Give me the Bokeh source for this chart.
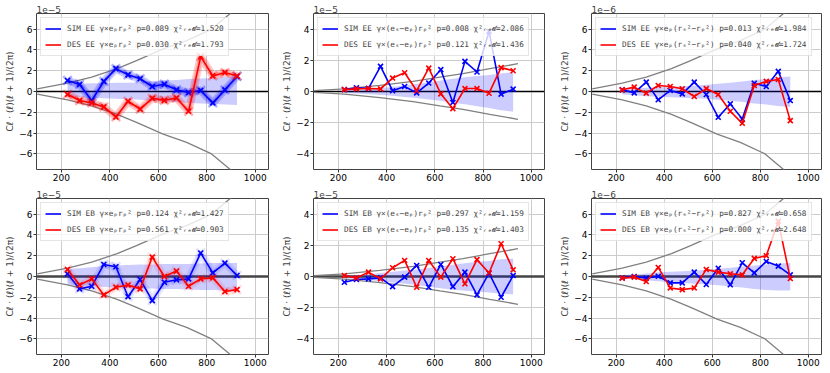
from bokeh.plotting import figure
from bokeh.layouts import column, row
from bokeh.models import Range1d, FixedTicker, Legend, LegendItem, Span
from bokeh.embed import file_html
from bokeh.resources import INLINE

# ---------------- data ----------------
ell = [225, 275, 325, 375, 425, 475, 525, 575, 625, 675, 725, 775, 825, 875, 925]
x_ticks = [200, 400, 600, 800, 1000]

# envelope curves (grey), symmetric
env_wide_ell = [100, 225, 325, 430, 510, 620, 717, 820, 897, 945]
env_wide = [0.25, 0.8, 1.39, 2.2, 2.97, 4.1, 4.9, 6.0, 7.5, 8.4]
env_narrow_ell = [100, 225, 372, 510, 621, 717, 828, 945]
env_narrow = [0.06, 0.17, 0.39, 0.65, 0.92, 1.14, 1.46, 1.78]

# Panel 1: EE  gamma x e_p r_p^2   (x1e-5)
sim_ee_1 = [1.06, 0.68, -0.87, 0.97, 2.2, 1.6, 1.23, 0.48, 0.7, 0.16, -0.1, 0.1, -1.1, 0.16, 1.45]
des_ee_1 = [-0.27, -0.87, -1.1, -1.48, -2.45, -0.94, -1.7, -0.65, -0.85, -0.62, -1.9, 3.35, 1.5, 1.82, 1.49]
up_1 = [0.7, 0.75, 0.8, 0.8, 0.85, 0.85, 0.9, 1.0, 1.05, 1.1, 1.2, 1.25, 1.3, 1.4, 1.45]
lo_1 = [-0.5, -0.55, -0.6, -0.65, -0.7, -0.75, -0.8, -0.9, -0.95, -1.0, -1.1, -1.15, -1.2, -1.25, -1.3]

# Panel 2: EE  gamma x (e_s-e_p) r_p^2   (x1e-5)
sim_ee_2 = [0.12, 0.24, 0.2, 1.61, 0.05, 0.32, -0.09, 0.54, 1.4, -0.7, 1.93, 1.25, 3.85, -0.17, 0.15]
des_ee_2 = [0.12, 0.17, 0.19, 0.17, 0.86, 1.2, 0.05, 1.5, -0.15, -1.1, 0.19, 0.19, -0.11, 1.53, 1.33]
up_2 = [0.06, 0.1, 0.15, 0.22, 0.3, 0.38, 0.48, 0.6, 0.7, 0.82, 0.92, 1.0, 1.05, 1.15, 1.25]
lo_2 = [-0.09, -0.13, -0.18, -0.23, -0.28, -0.35, -0.42, -0.52, -0.6, -0.72, -0.82, -0.95, -1.05, -1.2, -1.3]

# Panel 3: EE  gamma x e_p (r_s^2 - r_p^2)   (x1e-6)
sim_ee_3 = [0.16, -0.13, 0.9, -0.8, 0.1, -0.23, 0.9, -0.29, -2.48, -1.19, -2.65, 0.8, 0.48, 1.94, -0.87]
des_ee_3 = [0.16, 0.42, -0.16, 0.58, 0.48, 0.26, -0.48, 0.28, -0.29, -1.9, -3.06, 0.58, 0.97, 1.16, -2.8]
up_3 = [0.25, 0.3, 0.35, 0.4, 0.45, 0.5, 0.55, 0.65, 0.75, 0.85, 0.95, 1.1, 1.2, 1.35, 1.45]
lo_3 = [-0.3, -0.35, -0.45, -0.5, -0.55, -0.6, -0.65, -0.7, -0.8, -0.9, -1.0, -1.15, -1.25, -1.4, -1.5]

# Panel 4: EB  gamma x e_p r_p^2   (x1e-5)
sim_eb_4 = [0.26, -1.19, -0.94, 1.16, 0.94, -1.94, -0.29, -2.32, -0.55, -0.32, -0.23, 2.26, 0.35, 1.29, 0.1]
des_eb_4 = [0.68, -0.81, -0.23, -1.77, -1.03, -0.81, -1.19, 1.87, 0.0, 0.52, -0.94, -0.23, -0.13, -1.45, -1.26]
up_4 = [0.75, 0.8, 0.9, 1.0, 1.05, 1.1, 1.15, 1.15, 1.2, 1.2, 1.2, 1.25, 1.3, 1.3, 1.3]
lo_4 = [-0.8, -0.85, -0.9, -1.0, -1.05, -1.1, -1.15, -1.15, -1.2, -1.2, -1.25, -1.3, -1.3, -1.35, -1.35]

# Panel 5: EB  gamma x (e_s-e_p) r_p^2   (x1e-5)
sim_eb_5 = [-0.37, -0.19, -0.15, -0.09, -0.65, -0.04, 0.71, -0.69, 0.77, -0.65, 0.28, -1.18, 0.22, -1.33, 0.06]
des_eb_5 = [0.06, -0.09, 0.28, -0.15, 0.56, 1.03, -0.69, 1.03, -0.04, 1.14, -0.47, 1.08, 0.22, 2.1, 0.43]
up_5 = [0.06, 0.1, 0.15, 0.22, 0.3, 0.38, 0.45, 0.55, 0.65, 0.75, 0.85, 0.95, 1.0, 1.1, 1.15]
lo_5 = [-0.12, -0.16, -0.22, -0.3, -0.38, -0.46, -0.55, -0.65, -0.75, -0.85, -0.92, -0.98, -1.03, -1.1, -1.15]

# Panel 6: EB  gamma x e_p (r_s^2 - r_p^2)   (x1e-6)
sim_eb_6 = [-0.13, 0.0, -0.16, 0.03, -0.61, -0.61, 0.42, -0.77, 0.8, -0.8, 1.32, 0.35, 1.45, 1.0, 0.16]
des_eb_6 = [-0.16, -0.06, -0.48, 0.87, -1.1, -1.26, -1.1, 0.68, 0.42, 0.26, 0.16, 1.74, 2.0, 5.3, -0.2]
up_6 = [0.15, 0.2, 0.3, 0.4, 0.45, 0.5, 0.55, 0.65, 0.75, 0.85, 0.95, 1.05, 1.15, 1.25, 1.3]
lo_6 = [-0.2, -0.25, -0.35, -0.45, -0.55, -0.62, -0.7, -0.78, -0.85, -0.95, -1.05, -1.2, -1.3, -1.35, -1.35]

labels_sim = [
    "SIM EE γ×eₚrₚ² p=0.089 χ²ᵣₑ𝒹=1.520",
    "SIM EE γ×(eₛ−eₚ)rₚ² p=0.008 χ²ᵣₑ𝒹=2.086",
    "SIM EE γ×eₚ(rₛ²−rₚ²) p=0.013 χ²ᵣₑ𝒹=1.984",
    "SIM EB γ×eₚrₚ² p=0.124 χ²ᵣₑ𝒹=1.427",
    "SIM EB γ×(eₛ−eₚ)rₚ² p=0.297 χ²ᵣₑ𝒹=1.159",
    "SIM EB γ×eₚ(rₛ²−rₚ²) p=0.827 χ²ᵣₑ𝒹=0.658",
]
labels_des = [
    "DES EE γ×eₚrₚ² p=0.030 χ²ᵣₑ𝒹=1.793",
    "DES EE γ×(eₛ−eₚ)rₚ² p=0.121 χ²ᵣₑ𝒹=1.436",
    "DES EE γ×eₚ(rₛ²−rₚ²) p=0.040 χ²ᵣₑ𝒹=1.724",
    "DES EB γ×eₚrₚ² p=0.561 χ²ᵣₑ𝒹=0.903",
    "DES EB γ×(eₛ−eₚ)rₚ² p=0.135 χ²ᵣₑ𝒹=1.403",
    "DES EB γ×eₚ(rₛ²−rₚ²) p=0.000 χ²ᵣₑ𝒹=2.648",
]
exponents = ["1e−5", "1e−5", "1e−6", "1e−5", "1e−5", "1e−6"]
ylims = [7.5, 5.0, 7.5, 7.5, 5.0, 7.5]
yticks_wide = [-6, -4, -2, 0, 2, 4, 6]
yticks_narrow = [-4, -2, 0, 2, 4]
y_label = "Cℓ · (ℓ)(ℓ + 1)/(2π)"

sims = [sim_ee_1, sim_ee_2, sim_ee_3, sim_eb_4, sim_eb_5, sim_eb_6]
dess = [des_ee_1, des_ee_2, des_ee_3, des_eb_4, des_eb_5, des_eb_6]
ups = [up_1, up_2, up_3, up_4, up_5, up_6]
los = [lo_1, lo_2, lo_3, lo_4, lo_5, lo_6]
envs = [(env_wide_ell, env_wide), (env_narrow_ell, env_narrow), (env_wide_ell, env_wide),
        (env_wide_ell, env_wide), (env_narrow_ell, env_narrow), (env_wide_ell, env_wide)]
glow = [0.2, 0.0, 0.0, 0.08, 0.0, 0.0]

FONT = "DejaVu Sans"
MONO = "DejaVu Sans Mono"


def make_panel(i, width, height, bl, br, bt, bb):
    ylim = ylims[i]
    p = figure(width=width, height=height, output_backend="svg", toolbar_location=None,
               x_range=Range1d(97, 1055), y_range=Range1d(-ylim, ylim),
               min_border_left=bl, min_border_right=br, min_border_top=bt, min_border_bottom=bb,
               background_fill_color="white", border_fill_color="white")
    p.title.text = exponents[i]
    p.title.align = "left"
    p.title.text_font = FONT
    p.title.text_font_size = "9px"
    p.title.text_font_style = "normal"
    p.title.standoff = 1
    p.title.offset = 0

    yt = yticks_wide if ylim > 6 else yticks_narrow
    p.xaxis.ticker = FixedTicker(ticks=x_ticks)
    p.yaxis.ticker = FixedTicker(ticks=yt)
    p.yaxis.major_label_overrides = {t: (("−" + str(-t)) if t < 0 else str(t)) for t in yt}
    for ax in (p.xaxis[0], p.yaxis[0]):
        ax.major_label_text_font = FONT
        ax.major_label_text_font_size = "9px"
        ax.major_label_text_color = "#000000"
        ax.major_tick_out = 3
        ax.major_tick_in = 0
        ax.major_tick_line_color = "#333333"
        ax.minor_tick_line_color = None
        ax.axis_line_color = None
        ax.major_label_standoff = 1
    p.yaxis.axis_label = y_label
    p.yaxis.axis_label_text_font = FONT
    p.yaxis.axis_label_text_font_size = "9px"
    p.yaxis.axis_label_text_font_style = "normal"
    p.yaxis.axis_label_standoff = 1
    p.grid.grid_line_color = "#cccccc"
    p.grid.grid_line_width = 1
    p.outline_line_color = "#444444"
    p.outline_line_width = 1

    # zero line
    if i < 3:
        p.add_layout(Span(location=0, dimension="width", line_color="black", line_width=1.5, level="underlay"))
    else:
        p.add_layout(Span(location=0, dimension="width", line_color="#444444", line_width=2.6, level="underlay"))

    # band
    p.varea(x=ell, y1=los[i], y2=ups[i], fill_color="blue", fill_alpha=0.2)
    # envelopes
    ex, ev = envs[i]
    p.line(ex, ev, line_color="grey", line_width=1.3)
    p.line(ex, [-v for v in ev], line_color="grey", line_width=1.3)

    items = []
    for data, col, lab in ((sims[i], "blue", labels_sim[i]), (dess[i], "red", labels_des[i])):
        g = glow[i]
        if g > 0:
            p.line(ell, data, line_color=col, line_width=8, line_alpha=g)
            p.line(ell, data, line_color=col, line_width=4.5, line_alpha=g)
            p.scatter(ell, data, marker="x", size=12, line_color=col, line_width=2.5, line_alpha=g * 1.5)
        r = p.line(ell, data, line_color=col, line_width=1.6)
        p.scatter(ell, data, marker="x", size=7, line_color=col, line_width=1.6)
        items.append(LegendItem(label=lab, renderers=[r]))

    leg = Legend(items=items, location="top_left")
    leg.label_text_font = MONO
    leg.label_text_font_size = "7.7px"
    leg.label_height = 13
    leg.glyph_height = 13
    leg.glyph_width = 16
    leg.label_standoff = 6
    leg.spacing = 3
    leg.padding = 4
    leg.margin = 4
    leg.border_line_color = "#cccccc"
    leg.border_line_width = 1
    leg.background_fill_alpha = 0.8
    p.add_layout(leg)
    return p


# (width, min_border_left, min_border_right)
col_w = [(279, 36, 11), (278, 34, 13), (272, 34, 8)]
# (height, min_border_top, min_border_bottom)
row_h = [(185, 13, 16), (187, 13, 18)]

rows = []
for r_i, (h, bt, bb) in enumerate(row_h):
    figs = []
    for c_i, (w, bl, br) in enumerate(col_w):
        figs.append(make_panel(r_i * 3 + c_i, w, h, bl, br, bt, bb))
    rows.append(row(*figs))

layout = column(*rows)
open("out.html", "w").write(file_html(layout, INLINE))
